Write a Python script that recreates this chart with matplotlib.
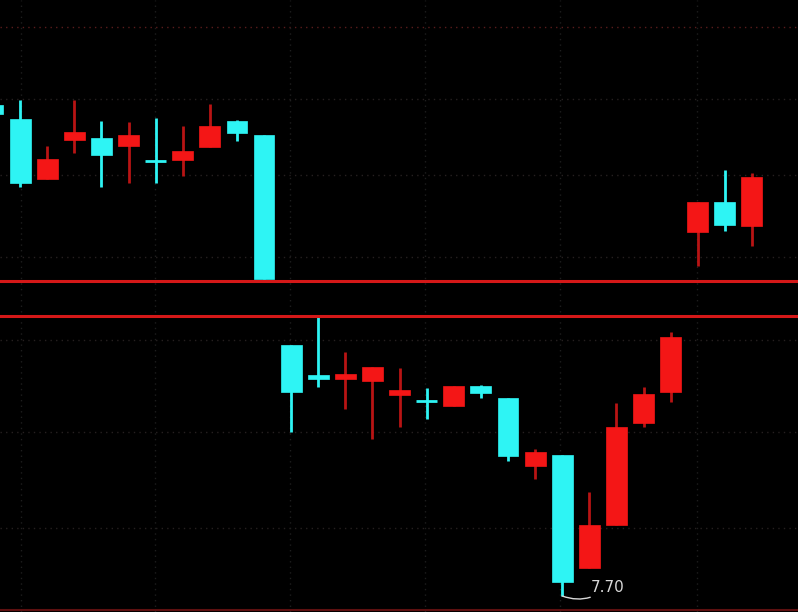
import numpy as np
import matplotlib
matplotlib.use("Agg")
import matplotlib.pyplot as plt

# daily candles (index 0 is cut at the left edge)
opens = [10.155, 10.085, 9.785, 9.98, 9.99, 9.95, 9.875, 9.88, 9.945, 10.075, 10.005,
         8.955, 8.805, 8.785, 8.775, 8.705, 8.675, 8.65, 8.75, 8.69, 8.35,
         8.405, 7.84, 8.055, 8.565, 8.72, 9.52, 9.67, 9.55]
highs = [10.18, 10.18, 9.95, 10.18, 10.075, 10.07, 10.09, 10.05, 10.16, 10.08, 10.005,
         8.955, 9.095, 8.92, 8.845, 8.84, 8.74, 8.75, 8.755, 8.69, 8.435,
         8.405, 8.22, 8.665, 8.745, 9.02, 9.67, 9.83, 9.815]
lows = [10.09, 9.745, 9.785, 9.915, 9.745, 9.765, 9.765, 9.80, 9.945, 9.975, 9.285,
        8.52, 8.745, 8.635, 8.485, 8.545, 8.585, 8.65, 8.69, 8.375, 8.285,
        7.70, 7.84, 8.055, 8.545, 8.67, 9.35, 9.525, 9.45]
closes = [10.11, 9.765, 9.885, 10.02, 9.905, 10.005, 9.875, 9.925, 10.05, 10.015, 9.285,
          8.72, 8.785, 8.81, 8.845, 8.73, 8.675, 8.75, 8.715, 8.40, 8.42,
          7.77, 8.055, 8.545, 8.71, 8.995, 9.67, 9.555, 9.795]

low_label = "7.70"
low_index = 21
red_levels = [9.275, 9.10]
grid_prices = [10.545, 10.185, 9.805, 9.395, 8.98, 8.52, 8.04]
grid_index = [1.03, 5.98, 10.96, 15.94, 20.92, 25.98]

UP = "#f41616"
UP_WICK = "#b81414"
DOWN = "#2ef4f4"

fig = plt.figure(figsize=(7.98, 6.12), dpi=100, facecolor="black")
ax = fig.add_axes([0, 0, 1, 1], facecolor="black")

# faint dotted grid
for i, g in enumerate(grid_prices):
    col = "#5a1c1c" if i == 0 else "#262020"
    ax.axhline(g, color=col, lw=1.0, ls=(0, (1, 3)), zorder=0)
for g in grid_index:
    ax.axvline(g, color="#1e1e1e", lw=1.0, ls=(0, (1, 3)), zorder=0)

x = np.arange(len(opens))
w = 0.77
for i in x:
    o, h, l, c = opens[i], highs[i], lows[i], closes[i]
    up = c > o
    body_col = UP if up else DOWN
    wick_col = UP_WICK if up else DOWN
    ax.vlines(i, l, h, color=wick_col, lw=2, zorder=2)
    if abs(c - o) < 0.004:
        ax.hlines(o, i - w / 2, i + w / 2, color=body_col, lw=2, zorder=3)
    else:
        ax.bar(i, abs(c - o), bottom=min(o, c), width=w, color=body_col,
               edgecolor=body_col, lw=0.5, zorder=3)

for lv in red_levels:
    ax.axhline(lv, color="#d41818", lw=2.2, zorder=4)
ax.axhline(7.63, color="#5e1010", lw=1.5, zorder=4)

ax.annotate(low_label, xy=(low_index, lows[low_index]), xytext=(low_index + 1.05, 7.745),
            color="#d8d8d8", fontsize=11, va="center", ha="left",
            arrowprops=dict(arrowstyle="-", color="#d8d8d8", lw=1,
                            connectionstyle="arc3,rad=-0.3", shrinkA=0, shrinkB=0))

ax.set_xlim(0.258, 29.70)
ax.set_ylim(7.62, 10.68)
ax.axis("off")

fig.savefig("out.png", dpi=100, facecolor="black")
